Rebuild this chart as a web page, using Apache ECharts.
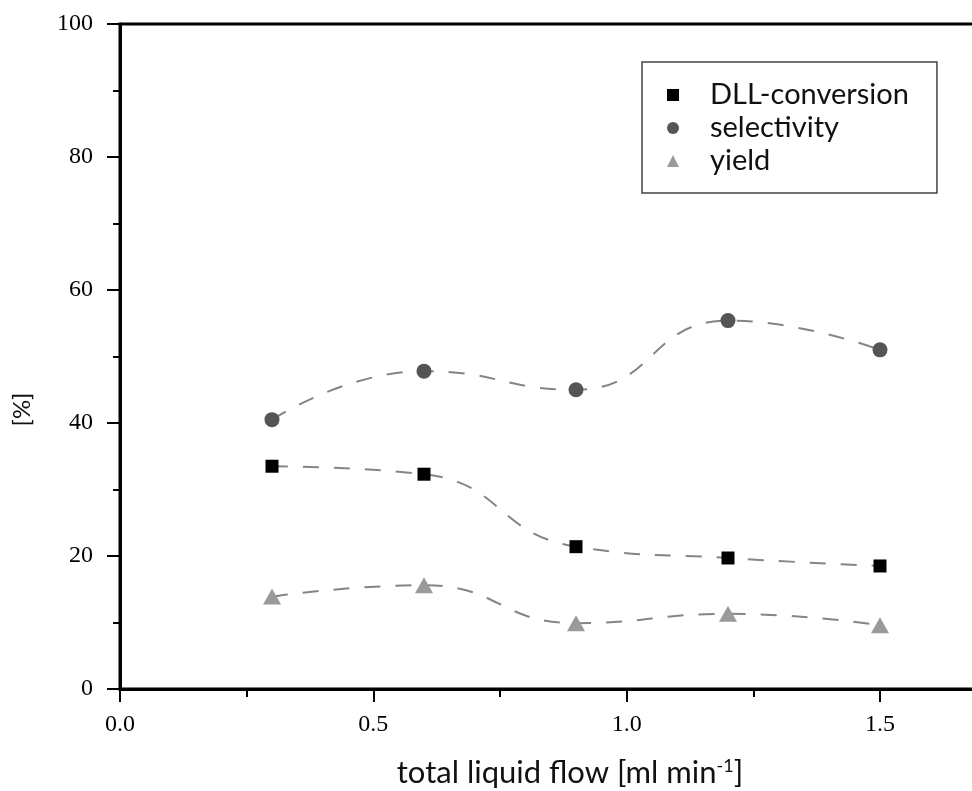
<!DOCTYPE html>
<html>
<head>
<meta charset="utf-8">
<script src="https://cdn.jsdelivr.net/npm/echarts@6/dist/echarts.min.js"></script>
<style>
  html, body { margin: 0; padding: 0; background: #fff; }
  #chart { width: 972px; height: 791px; }
</style>
</head>
<body>
<div id="chart"></div>
<script>
// Total liquid flow [ml/min]
const flow = [0.3, 0.6, 0.9, 1.2, 1.5];
// Measured values in %
const conversion = [33.5, 32.3, 21.4, 19.7, 18.5];
const selectivity = [40.5, 47.8, 45.0, 55.4, 51.0];
const yieldVals = [13.9, 15.6, 9.9, 11.3, 9.6];

const seriesNames = ['DLL-conversion', 'selectivity', 'yield'];
const markerColors = ['#000000', '#555555', '#9a9a9a'];
const markerShapes = ['rect', 'circle', 'triangle'];
const markerSizes = [[13, 13], 15, [18, 16]];
const values = [conversion, selectivity, yieldVals];

const pairs = arr => flow.map((x, i) => [x, arr[i]]);

const lineSeries = values.map(v => ({
  type: 'line',
  data: pairs(v),
  smooth: 0.5,
  symbol: 'none',
  silent: true,
  z: 2,
  lineStyle: { color: '#858585', width: 2, type: [16, 15] }
}));

const pointSeries = values.map((v, i) => ({
  name: seriesNames[i],
  type: 'scatter',
  data: pairs(v),
  symbol: markerShapes[i],
  symbolSize: markerSizes[i],
  z: 3,
  itemStyle: { color: markerColors[i], opacity: 1 }
}));

const chart = echarts.init(document.getElementById('chart'), null, { renderer: 'canvas' });
chart.setOption({
  animation: false,
  backgroundColor: '#fff',
  grid: {
    left: 120, top: 24, height: 665, width: 912,
    outerBoundsMode: 'none',
    containLabel: false,
    show: true, borderColor: '#000', borderWidth: 3, backgroundColor: 'transparent'
  },
  legend: {
    data: seriesNames,
    orient: 'vertical',
    left: 642, top: 62,
    padding: [17, 28, 16, 25],
    itemGap: 1,
    itemWidth: 12, itemHeight: 12,
    borderColor: '#444', borderWidth: 1.5,
    backgroundColor: '#fff',
    textStyle: {
      fontFamily: 'Lato', fontSize: 29, color: '#111',
      lineHeight: 32, padding: [0, 0, 0, 26]
    }
  },
  xAxis: {
    type: 'value',
    min: 0, max: 1.8, interval: 0.5,
    name: 'total liquid flow [ml min{sup|-1}]',
    nameLocation: 'middle',
    nameGap: 68,
    nameMoveOverlap: false,
    nameTextStyle: {
      fontFamily: 'Lato', fontSize: 31, color: '#111',
      padding: [0, 12, 0, 0],
      rich: { sup: { fontFamily: 'Lato', fontSize: 18, verticalAlign: 'top', padding: [0, 0, 14, 0], color: '#111' } }
    },
    axisLine: { show: true, lineStyle: { color: '#000', width: 3 } },
    axisTick: { show: true, length: 13, lineStyle: { color: '#000', width: 2 } },
    minorTick: { show: true, splitNumber: 2, length: 8, lineStyle: { color: '#000', width: 2 } },
    splitLine: { show: false },
    axisLabel: {
      margin: 24,
      fontFamily: 'Liberation Serif', fontSize: 24, color: '#000',
      formatter: v => (Math.abs(v * 2 - Math.round(v * 2)) < 1e-9 ? v.toFixed(1) : '')
    }
  },
  yAxis: {
    type: 'value',
    min: 0, max: 100, interval: 20,
    name: '[%]',
    nameLocation: 'middle',
    nameGap: 86,
    nameMoveOverlap: false,
    nameTextStyle: {
      fontFamily: 'Lato', fontSize: 24, color: '#111',
      padding: [0, 106, 0, 0]
    },
    axisLine: { show: true, lineStyle: { color: '#000', width: 3 } },
    axisTick: { show: true, length: 13, lineStyle: { color: '#000', width: 2 } },
    minorTick: { show: true, splitNumber: 2, length: 7, lineStyle: { color: '#000', width: 2 } },
    splitLine: { show: false },
    axisLabel: {
      margin: 27,
      fontFamily: 'Liberation Serif', fontSize: 24, color: '#000'
    }
  },
  series: lineSeries.concat(pointSeries)
});
</script>
</body>
</html>
